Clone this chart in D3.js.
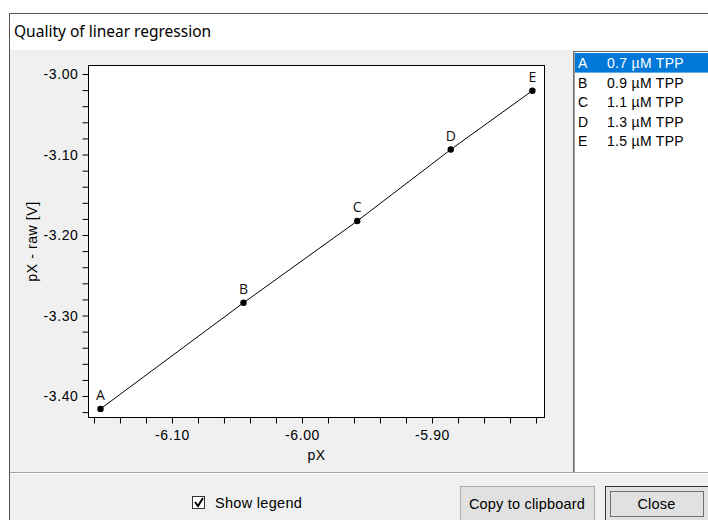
<!DOCTYPE html>
<html><head><meta charset="utf-8">
<script src="https://cdn.jsdelivr.net/npm/d3@7"></script>
<style>
html,body{margin:0;padding:0;background:#fff;}
svg{display:block;}
</style></head>
<body>
<svg id="c" width="708" height="520"></svg>
<script>
// ---- data ----
const categories = ["A", "B", "C", "D", "E"];
const xValues = [-6.155, -6.045, -5.9575, -5.8856, -5.8228];
const yValues = [-3.416, -3.2842, -3.1826, -3.0938, -3.0207];
const legendLabels = ["0.7 µM TPP", "0.9 µM TPP", "1.1 µM TPP", "1.3 µM TPP", "1.5 µM TPP"];
const xMajorTicks = [-6.10, -6.00, -5.90];
const xTickLabels = ["-6.10", "-6.00", "-5.90"];
const yMajorTicks = [-3.00, -3.10, -3.20, -3.30, -3.40];
const yTickLabels = ["-3.00", "-3.10", "-3.20", "-3.30", "-3.40"];
const xMinorTicks = [-6.16, -6.14, -6.12, -6.08, -6.06, -6.04, -6.02, -5.98, -5.96, -5.94, -5.92, -5.88, -5.86, -5.84, -5.82];
const yMinorTicks = [-3.42, -3.38, -3.36, -3.34, -3.32, -3.28, -3.26, -3.24, -3.22, -3.18, -3.16, -3.14, -3.12, -3.08, -3.06, -3.04, -3.02];
const xDomain = [-6.1646, -5.8131];
const yDomain = [-3.4273, -2.9888];

const svg = d3.select("#c");
const uiFont = "'Liberation Sans', Arial, sans-serif";

// window frame
svg.append("rect").attr("x", 9.5).attr("y", 13.5).attr("width", 720).attr("height", 520)
  .attr("fill", "#fff").attr("stroke", "#5c5252");
svg.append("text").attr("x", 14).attr("y", 37).attr("font-family", "'Noto Sans', sans-serif")
  .attr("font-size", 15.5).attr("fill", "#000").text("Quality of linear regression");
svg.append("rect").attr("x", 10).attr("y", 50).attr("width", 698).attr("height", 470).attr("fill", "#f0f0f0");

// bottom separator
svg.append("line").attr("x1", 10).attr("x2", 708).attr("y1", 472.5).attr("y2", 472.5).attr("stroke", "#a0a0a0");
svg.append("line").attr("x1", 10).attr("x2", 708).attr("y1", 473.5).attr("y2", 473.5).attr("stroke", "#fff");

// legend list box
const lb = svg.append("g");
lb.append("rect").attr("x", 573).attr("y", 51).attr("width", 140).attr("height", 421).attr("fill", "#fff");
lb.append("line").attr("x1", 573.5).attr("x2", 573.5).attr("y1", 51).attr("y2", 472).attr("stroke", "#6f6f6f");
lb.append("line").attr("x1", 574.5).attr("x2", 574.5).attr("y1", 52).attr("y2", 472).attr("stroke", "#a0a0a0");
lb.append("line").attr("x1", 573).attr("x2", 708).attr("y1", 51.5).attr("y2", 51.5).attr("stroke", "#6f6f6f");
const rowH = 19.6;
const rows = lb.selectAll("g.row").data(categories).join("g").attr("class", "row")
  .attr("transform", (d, i) => `translate(0,${53 + i * rowH})`);
rows.append("rect").attr("x", 575).attr("y", 0).attr("width", 133).attr("height", rowH)
  .attr("fill", (d, i) => i === 0 ? "#0078d7" : "none");
rows.append("text").attr("x", 578).attr("y", 15).attr("font-family", uiFont).attr("font-size", 14)
  .attr("fill", (d, i) => i === 0 ? "#fff" : "#000").text(d => d);
rows.append("text").attr("x", 607).attr("y", 15).attr("font-family", uiFont).attr("font-size", 14)
  .attr("letter-spacing", 0.3)
  .attr("fill", (d, i) => i === 0 ? "#fff" : "#000").text((d, i) => legendLabels[i]);

// plot
const L = 88, R = 545, T = 65, B = 418;
const x = d3.scaleLinear().domain(xDomain).range([L, R]);
const y = d3.scaleLinear().domain(yDomain).range([B, T]);

svg.append("rect").attr("x", L + 0.5).attr("y", T + 0.5).attr("width", R - L - 1).attr("height", B - T - 1)
  .attr("fill", "#fff").attr("stroke", "#000");

const axFont = (g) => g.selectAll("text").attr("font-family", uiFont).attr("font-size", 14)
  .attr("letter-spacing", 0.6).attr("fill", "#000");

const yAxis = svg.append("g").attr("transform", `translate(${L + 0.5},0)`)
  .call(d3.axisLeft(y).tickValues(yMajorTicks).tickSize(6).tickPadding(4)
    .tickFormat((d, i) => yTickLabels[i]));
yAxis.select(".domain").remove();
axFont(yAxis);
yAxis.selectAll("text").attr("dy", "0.35em");
const yMin = svg.append("g").attr("transform", `translate(${L + 0.5},0)`)
  .call(d3.axisLeft(y).tickValues(yMinorTicks).tickSize(6).tickFormat(""));
yMin.select(".domain").remove();

const xAxis = svg.append("g").attr("transform", `translate(0,${B - 0.5})`)
  .call(d3.axisBottom(x).tickValues(xMajorTicks).tickSize(6).tickPadding(7)
    .tickFormat((d, i) => xTickLabels[i]));
xAxis.select(".domain").remove();
axFont(xAxis);
const xMin = svg.append("g").attr("transform", `translate(0,${B - 0.5})`)
  .call(d3.axisBottom(x).tickValues(xMinorTicks).tickSize(6).tickFormat(""));
xMin.select(".domain").remove();

svg.append("text").attr("x", (L + R) / 2).attr("y", 460).attr("text-anchor", "middle")
  .attr("font-family", uiFont).attr("font-size", 14).attr("letter-spacing", 0.4).text("pX");
svg.append("text").attr("transform", `translate(37,${(T + B) / 2}) rotate(-90)`).attr("text-anchor", "middle")
  .attr("font-family", uiFont).attr("font-size", 14).attr("letter-spacing", 0.6).text("pX - raw [V]");

const pts = categories.map((c, i) => ({ c, x: xValues[i], y: yValues[i] }));
svg.append("path").datum(pts).attr("fill", "none").attr("stroke", "#000").attr("stroke-width", 1)
  .attr("d", d3.line().x(d => x(d.x)).y(d => y(d.y)));
svg.selectAll("circle.pt").data(pts).join("circle").attr("class", "pt")
  .attr("cx", d => x(d.x)).attr("cy", d => y(d.y)).attr("r", 3.2).attr("fill", "#000");
svg.selectAll("text.lbl").data(pts).join("text").attr("class", "lbl")
  .attr("x", d => x(d.x)).attr("y", d => y(d.y) - 9).attr("text-anchor", "middle")
  .attr("font-family", "'Open Sans', sans-serif").attr("font-size", 14).attr("fill", "#111").text(d => d.c);

// bottom controls
const cb = svg.append("g");
cb.append("rect").attr("x", 192.5).attr("y", 496.5).attr("width", 12).attr("height", 12).attr("fill", "#fff").attr("stroke", "#333");
cb.append("path").attr("d", "M195,502 L198,506 L203,498").attr("fill", "none").attr("stroke", "#000").attr("stroke-width", 2);
cb.append("text").attr("x", 215).attr("y", 508).attr("font-family", uiFont).attr("font-size", 14.5)
  .attr("letter-spacing", 0.3).text("Show legend");

function button(x0, w, label, focused) {
  const g = svg.append("g");
  g.append("rect").attr("x", x0 + 0.5).attr("y", 486.5).attr("width", w).attr("height", 40)
    .attr("fill", "#e1e1e1").attr("stroke", focused ? "#333" : "#adadad");
  if (focused) {
    g.append("rect").attr("x", x0 + 5.5).attr("y", 491.5).attr("width", w - 10).attr("height", 25)
      .attr("fill", "none").attr("stroke", "#000").attr("stroke-dasharray", "1,1");
  }
  g.append("text").attr("x", x0 + w / 2).attr("y", 508.5).attr("text-anchor", "middle")
    .attr("font-family", uiFont).attr("font-size", 14.5).attr("letter-spacing", 0.2).text(label);
}
button(460, 134, "Copy to clipboard", false);
button(605, 103, "Close", true);
</script>
</body></html>
